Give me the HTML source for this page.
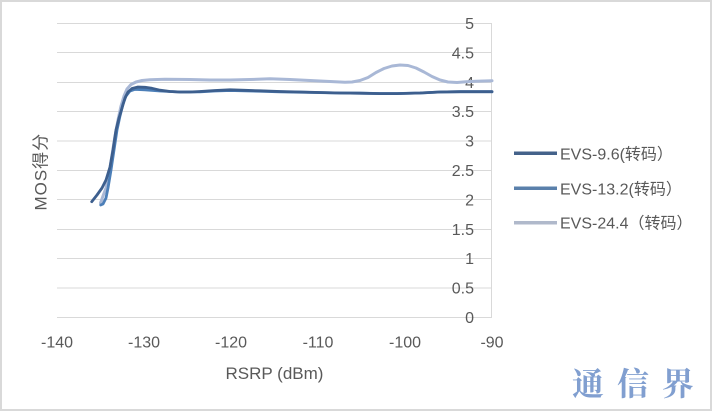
<!DOCTYPE html>
<html>
<head>
<meta charset="utf-8">
<style>
  html, body { margin:0; padding:0; background:#fff; }
  svg { display:block; }
  text { font-family: "Liberation Sans", "Noto Sans CJK SC", sans-serif; fill:#595959; }
</style>
</head>
<body>
<svg width="712" height="411" viewBox="0 0 712 411" xmlns="http://www.w3.org/2000/svg">
  <rect x="0" y="0" width="712" height="411" fill="#fff"/>
  <rect x="1" y="1" width="710" height="409" fill="none" stroke="#d9d9d9" stroke-width="2"/>

  <!-- gridlines -->
  <g stroke="#d9d9d9" stroke-width="1">
    <line x1="57" y1="317.5" x2="492" y2="317.5"/>
    <line x1="57" y1="288" x2="492" y2="288"/>
    <line x1="57" y1="258.5" x2="492" y2="258.5"/>
    <line x1="57" y1="229.5" x2="492" y2="229.5"/>
    <line x1="57" y1="199.5" x2="492" y2="199.5"/>
    <line x1="57" y1="170.5" x2="492" y2="170.5"/>
    <line x1="57" y1="141" x2="492" y2="141"/>
    <line x1="57" y1="111.5" x2="492" y2="111.5"/>
    <line x1="57" y1="82.5" x2="492" y2="82.5"/>
    <line x1="57" y1="52.5" x2="492" y2="52.5"/>
    <line x1="57" y1="23.5" x2="492" y2="23.5"/>
    <line x1="491.5" y1="23.5" x2="491.5" y2="317.5"/>
  </g>

  <!-- y tick labels -->
  <g font-size="16" text-anchor="end">
    <text x="474" y="323">0</text>
    <text x="474" y="293.6">0.5</text>
    <text x="474" y="264.2">1</text>
    <text x="474" y="234.8">1.5</text>
    <text x="474" y="205.4">2</text>
    <text x="474" y="176">2.5</text>
    <text x="474" y="146.6">3</text>
    <text x="474" y="117.2">3.5</text>
    <text x="474" y="87.8">4</text>
    <text x="474" y="58.4">4.5</text>
    <text x="474" y="29">5</text>
  </g>

  <!-- x tick labels -->
  <g font-size="16" text-anchor="middle">
    <text x="57" y="347.5">-140</text>
    <text x="144" y="347.5">-130</text>
    <text x="231" y="347.5">-120</text>
    <text x="318" y="347.5">-110</text>
    <text x="405" y="347.5">-100</text>
    <text x="492" y="347.5">-90</text>
  </g>

  <!-- axis titles -->
  <text x="274.5" y="379" font-size="17" text-anchor="middle">RSRP (dBm)</text>
  <text transform="translate(46.5,171.7) rotate(-90)" font-size="17" text-anchor="middle" letter-spacing="1">MOS得分</text>

  <!-- series -->
  <g fill="none" stroke-linejoin="round" stroke-linecap="round">
    <!-- EVS-24.4 light -->
    <polyline stroke="#a9b8d6" stroke-width="3"
      points="100.5,203 103,196 106,188 109,174 112,155 115,136 118,120 121,106 124,96 127,89 131,84.5 136,82 142,80.5 150,79.7 165,79.3 190,79.5 210,80 230,80 250,79.5 270,78.8 290,79.5 310,80.5 330,81.5 345,82.2 352,82 360,80.5 368,77.5 376,72.5 384,68.5 392,66 400,65 408,65.5 416,68 424,72 432,76.5 440,80 448,82 457,82.5 466,81.8 476,81.2 492,80.7"/>
    <!-- EVS-13.2 medium -->
    <polyline stroke="#4c7fb8" stroke-width="2.8"
      points="100.7,205 103,204 106,198 108,188 111,170 114,150 117,130 120,116 123,104 126,96 130,91 135,89.3 145,89.8 160,91 180,92 200,91.8 215,91 230,90.5 245,90.8 260,91.2 280,91.8 300,92.2 320,92.6 340,93 360,93.2 380,93.5 397,93.5 420,93 440,92 460,91.7 492,91.7"/>
    <!-- EVS-9.6 dark -->
    <polyline stroke="#3d5f8e" stroke-width="2.8"
      points="91.7,201.7 97,195 102,188 106,180 110,167 113,150 116,130 119,118 122,108 125,98 128,92 132,88.5 138,87 145,87.3 152,88.3 160,90.2 170,91.5 180,92 190,92 200,91.5 215,90.5 230,89.8 245,90.3 260,90.8 280,91.5 300,92 320,92.5 340,93 360,93.2 380,93.6 397,93.6 420,93 440,92 460,91.7 492,91.7"/>
  </g>

  <!-- legend -->
  <g stroke-width="3.5" stroke-linecap="butt">
    <line x1="514" y1="153.3" x2="557" y2="153.3" stroke="#44628a"/>
    <line x1="514" y1="188.3" x2="557" y2="188.3" stroke="#5a80ab"/>
    <line x1="514" y1="222.7" x2="557" y2="222.7" stroke="#b0b9cb"/>
  </g>
  <g font-size="16">
    <text x="560" y="159.3">EVS-9.6(转码）</text>
    <text x="560" y="194.3">EVS-13.2(转码）</text>
    <text x="560" y="228.7">EVS-24.4（转码）</text>
  </g>

  <!-- watermark -->
  <text x="572" y="395" font-size="32" font-weight="bold" letter-spacing="13"
    style="font-family:'Noto Serif CJK SC','Noto Sans CJK SC',serif; fill:#819fd0;">通信界</text>
</svg>
</body>
</html>
